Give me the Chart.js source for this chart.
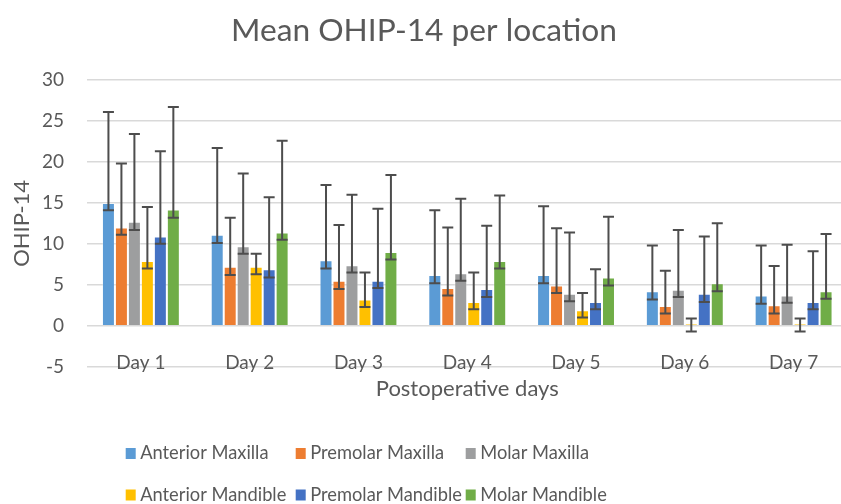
<!DOCTYPE html>
<html>
<head>
<meta charset="utf-8">
<script src="https://cdn.jsdelivr.net/npm/chart.js@4"></script>
<style>
html,body{margin:0;padding:0;overflow:hidden;background:#fff;}
canvas{display:block;}
</style>
</head>
<body>
<canvas id="c" width="850" height="504"></canvas>
<script>
// ---- data ----
const categories = ['Day 1', 'Day 2', 'Day 3', 'Day 4', 'Day 5', 'Day 6', 'Day 7'];
const seriesNames = ['Anterior Maxilla', 'Premolar Maxilla', 'Molar Maxilla', 'Anterior Mandible', 'Premolar Mandible', 'Molar Mandible'];

const anteriorMaxilla  = [15.0, 11.1, 8.0, 6.2, 6.2, 4.2, 3.7];
const premolarMaxilla  = [12.0, 7.2, 5.5, 4.6, 4.9, 2.4, 2.5];
const molarMaxilla     = [12.7, 9.7, 7.4, 6.4, 3.9, 4.4, 3.7];
const anteriorMandible = [7.9, 7.2, 3.2, 2.9, 1.9, 0.2, 0.2];
const premolarMandible = [10.9, 6.9, 5.5, 4.5, 2.9, 3.9, 2.9];
const molarMandible    = [14.2, 11.4, 9.0, 7.9, 5.9, 5.2, 4.2];

// error bar ends (upper / lower)
const anteriorMaxillaHigh  = [26.1, 21.7, 17.2, 14.1, 14.6, 9.8, 9.8];
const anteriorMaxillaLow   = [14.1, 10.1, 7.0, 5.2, 5.2, 3.2, 2.7];
const premolarMaxillaHigh  = [19.8, 13.2, 12.3, 12.0, 11.9, 6.7, 7.3];
const premolarMaxillaLow   = [11.1, 6.2, 4.5, 3.7, 4.0, 1.5, 1.5];
const molarMaxillaHigh     = [23.4, 18.6, 16.0, 15.5, 11.4, 11.7, 9.9];
const molarMaxillaLow      = [11.7, 8.8, 6.5, 5.5, 3.0, 3.5, 2.8];
const anteriorMandibleHigh = [14.5, 8.8, 6.5, 6.5, 4.0, 0.9, 0.9];
const anteriorMandibleLow  = [7.0, 6.3, 2.3, 2.0, 1.0, -0.7, -0.7];
const premolarMandibleHigh = [21.3, 15.7, 14.3, 12.2, 6.9, 10.9, 9.1];
const premolarMandibleLow  = [10.0, 5.9, 4.6, 3.5, 2.0, 2.9, 2.0];
const molarMandibleHigh    = [26.7, 22.6, 18.4, 15.9, 13.3, 12.5, 11.2];
const molarMandibleLow     = [13.2, 10.5, 8.1, 7.0, 4.9, 4.2, 3.3];

const yMin = -5, yMax = 30, yStep = 5;

// ---- styles ----
const colors = ['#5B9BD5', '#ED7D31', '#9D9E9F', '#FFC000', '#4472C4', '#70AD47'];
const FONT = 'Lato';
const TXT = '#595959';

const means = [anteriorMaxilla, premolarMaxilla, molarMaxilla, anteriorMandible, premolarMandible, molarMandible];
const highs = [anteriorMaxillaHigh, premolarMaxillaHigh, molarMaxillaHigh, anteriorMandibleHigh, premolarMandibleHigh, molarMandibleHigh];
const lows  = [anteriorMaxillaLow, premolarMaxillaLow, molarMaxillaLow, anteriorMandibleLow, premolarMandibleLow, molarMandibleLow];

const datasets = seriesNames.map((name, i) => ({
  label: name,
  data: means[i],
  errHigh: highs[i],
  errLow: lows[i],
  backgroundColor: colors[i],
  borderColor: 'rgba(255,255,255,0.3)',
  borderWidth: 1,
  borderSkipped: 'start',
  barPercentage: 1.0,
  categoryPercentage: 0.716
}));

const errorBars = {
  id: 'errorBars',
  afterDatasetsDraw(chart) {
    const ctx = chart.ctx;
    const y = chart.scales.y;
    ctx.save();
    ctx.strokeStyle = '#4d4d4d';
    ctx.lineWidth = 2;
    chart.data.datasets.forEach((ds, di) => {
      const meta = chart.getDatasetMeta(di);
      meta.data.forEach((bar, i) => {
        const hi = y.getPixelForValue(ds.errHigh[i]);
        const lo = y.getPixelForValue(ds.errLow[i]);
        const x = bar.x, w = 5.5;
        ctx.beginPath();
        ctx.moveTo(x, hi); ctx.lineTo(x, lo);
        ctx.moveTo(x - w, hi); ctx.lineTo(x + w, hi);
        ctx.moveTo(x - w, lo); ctx.lineTo(x + w, lo);
        ctx.stroke();
      });
    });
    ctx.restore();
  }
};

const gridLegend = {
  id: 'gridLegend',
  afterDraw(chart) {
    const ctx = chart.ctx;
    const colX0 = 125.7, colStep = 170, rowY = [453.5, 495], box = 10;
    ctx.save();
    ctx.font = '18.3px ' + FONT;
    ctx.textBaseline = 'middle';
    ctx.textAlign = 'left';
    chart.data.datasets.forEach((ds, i) => {
      const col = i % 3, row = Math.floor(i / 3);
      const x = colX0 + col * colStep, yc = rowY[row];
      ctx.fillStyle = ds.backgroundColor;
      ctx.fillRect(x, yc - 5.5, box, 11);
      ctx.fillStyle = TXT;
      ctx.fillText(ds.label, x + box + 4.5, yc);
    });
    ctx.restore();
  }
};

new Chart(document.getElementById('c'), {
  type: 'bar',
  data: { labels: categories, datasets },
  options: {
    responsive: false,
    animation: false,
    devicePixelRatio: 1,
    layout: { padding: { left: 0, right: 2, top: 0, bottom: 137.3 } },
    plugins: {
      legend: { display: false },
      tooltip: { enabled: false },
      title: {
        display: true,
        text: 'Mean OHIP-14 per location',
        color: TXT,
        font: { family: FONT, size: 31.7, weight: 'normal' },
        padding: { top: 12, bottom: 30 }
      }
    },
    scales: {
      x: {
        position: { y: 0 },
        grid: { display: false },
        border: { display: false },
        ticks: { color: TXT, font: { family: FONT, size: 19 }, padding: 18 },
        title: {
          display: true, text: 'Postoperative days', color: TXT,
          font: { family: FONT, size: 22 }, padding: { top: 0, bottom: 0 }
        },
        afterFit(s) { s.height = 76; }
      },
      y: {
        min: yMin, max: yMax,
        ticks: { stepSize: yStep, color: TXT, font: { family: FONT, size: 19 }, padding: 22.5 },
        grid: { color: '#d9d9d9', lineWidth: 1.5, drawTicks: false },
        border: { display: false },
        title: {
          display: true, text: 'OHIP-14', color: TXT,
          font: { family: FONT, size: 22 }, padding: { top: 8.8, bottom: 0 }
        },
        afterFit(s) { s.width = 86.5; }
      }
    }
  },
  plugins: [errorBars, gridLegend]
});
</script>
</body>
</html>
